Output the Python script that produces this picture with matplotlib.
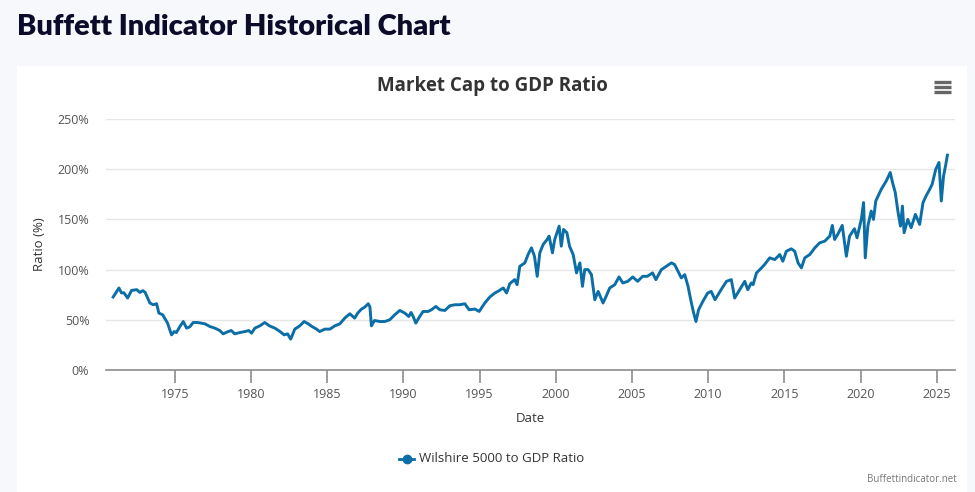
import matplotlib
matplotlib.use("Agg")
import matplotlib.pyplot as plt
from matplotlib.patches import Rectangle
from matplotlib.lines import Line2D

# ---- data ----
years = [
    1970.95, 1971.33, 1971.5, 1971.65, 1971.9, 1972.16, 1972.5, 1972.7, 1972.9, 1973.05,
    1973.36, 1973.58, 1973.8, 1973.95, 1974.2, 1974.52, 1974.78, 1974.96, 1975.1, 1975.33,
    1975.55, 1975.77, 1975.98, 1976.2, 1976.5, 1976.97, 1977.3, 1977.62, 1977.95, 1978.17,
    1978.5, 1978.7, 1978.93, 1979.26, 1979.6, 1979.85, 1980.03, 1980.25, 1980.58, 1980.9,
    1981.2, 1981.56, 1981.9, 1982.17, 1982.4, 1982.6, 1982.87, 1983.2, 1983.48, 1983.75,
    1984.0, 1984.3, 1984.5, 1984.84, 1985.17, 1985.5, 1985.83, 1986.15, 1986.48, 1986.8,
    1987.0, 1987.25, 1987.47, 1987.69, 1987.8, 1987.9, 1988.1, 1988.45, 1988.78, 1989.1,
    1989.43, 1989.76, 1990.09, 1990.35, 1990.5, 1990.64, 1990.81, 1991.07, 1991.29, 1991.62,
    1991.84, 1992.13, 1992.39, 1992.72, 1993.05, 1993.37, 1993.7, 1994.03, 1994.31, 1994.69,
    1994.97, 1995.34, 1995.67, 1996.0, 1996.2, 1996.55, 1996.77, 1996.98, 1997.3, 1997.46,
    1997.64, 1997.97, 1998.18, 1998.4, 1998.6, 1998.78, 1998.95, 1999.17, 1999.43, 1999.56,
    1999.78, 1999.93, 2000.22, 2000.36, 2000.51, 2000.73, 2000.9, 2001.14, 2001.36, 2001.58,
    2001.75, 2001.9, 2002.12, 2002.34, 2002.56, 2002.78, 2003.1, 2003.3, 2003.54, 2003.87,
    2004.15, 2004.4, 2004.72, 2005.05, 2005.37, 2005.7, 2006.0, 2006.35, 2006.57, 2006.93,
    2007.26, 2007.59, 2007.8, 2008.02, 2008.24, 2008.46, 2008.68, 2008.9, 2009.05, 2009.2,
    2009.37, 2009.65, 2009.97, 2010.2, 2010.45, 2010.85, 2011.2, 2011.52, 2011.74, 2012.07,
    2012.4, 2012.6, 2012.83, 2012.95, 2013.17, 2013.5, 2013.7, 2014.04, 2014.37, 2014.7,
    2014.9, 2015.13, 2015.46, 2015.68, 2015.9, 2016.12, 2016.34, 2016.67, 2017.0, 2017.32,
    2017.65, 2017.98, 2018.15, 2018.3, 2018.5, 2018.8, 2019.07, 2019.28, 2019.6, 2019.77,
    2020.05, 2020.2, 2020.31, 2020.48, 2020.7, 2020.85, 2021.0, 2021.36, 2021.69, 2021.95,
    2022.1, 2022.28, 2022.45, 2022.62, 2022.75, 2022.86, 2023.1, 2023.32, 2023.6, 2023.88,
    2024.1, 2024.3, 2024.54, 2024.7, 2024.94, 2025.15, 2025.3, 2025.45, 2025.6, 2025.7,
]
ratio = [
    72.7, 81.7, 76.7, 77.0, 71.7, 79.3, 80.0, 77.3, 79.0, 77.3,
    66.7, 65.0, 66.0, 56.7, 55.0, 46.7, 35.0, 38.3, 37.3, 43.3,
    48.3, 41.7, 43.0, 47.3, 47.3, 46.0, 43.3, 41.7, 39.3, 36.0,
    38.3, 39.3, 36.0, 37.3, 38.3, 39.3, 36.7, 41.7, 44.0, 47.3,
    44.0, 41.7, 38.3, 35.0, 36.0, 30.7, 40.7, 44.0, 48.3, 46.0,
    43.3, 40.7, 38.3, 40.7, 40.7, 44.0, 46.0, 51.7, 56.0, 51.7,
    56.7, 60.7, 62.7, 66.0, 63.0, 44.0, 49.3, 48.3, 48.3, 50.0,
    55.0, 59.3, 56.7, 53.3, 57.3, 53.3, 46.7, 53.3, 58.3, 58.3,
    60.0, 63.3, 60.0, 59.3, 64.0, 65.0, 65.0, 66.0, 60.0, 60.7,
    58.3, 66.7, 72.7, 76.7, 78.3, 81.7, 76.7, 86.0, 90.0, 85.0,
    103.3, 106.7, 115.0, 121.7, 113.3, 93.3, 116.7, 125.0, 130.0, 133.3,
    116.7, 130.0, 143.3, 123.3, 140.0, 136.7, 123.3, 115.0, 96.7, 106.7,
    83.3, 100.0, 100.0, 95.0, 70.0, 78.3, 66.7, 73.3, 81.7, 85.0,
    92.7, 86.7, 88.3, 92.7, 88.3, 93.3, 93.3, 96.7, 90.0, 100.0,
    103.3, 106.7, 105.0, 98.3, 91.7, 95.0, 83.3, 66.7, 56.7, 48.3,
    60.0, 68.3, 76.7, 78.3, 70.0, 80.0, 88.3, 90.0, 71.7, 80.0,
    88.3, 80.0, 86.7, 85.0, 96.7, 101.7, 105.0, 111.7, 110.0, 115.0,
    108.3, 118.3, 120.7, 118.3, 106.7, 101.7, 111.7, 115.0, 121.7, 126.7,
    128.3, 133.3, 144.0, 130.0, 135.0, 144.0, 113.3, 133.3, 140.7, 131.7,
    150.0, 166.7, 111.7, 143.3, 158.3, 150.0, 168.3, 180.0, 188.3, 196.7,
    186.7, 176.7, 158.3, 143.3, 163.3, 136.7, 150.0, 141.7, 155.0, 145.0,
    166.7, 173.3, 180.0, 185.0, 200.0, 206.7, 168.3, 193.3, 205.0, 214.0,
]
x_ticks = [1975, 1980, 1985, 1990, 1995, 2000, 2005, 2010, 2015, 2020, 2025]
y_ticks = [0, 50, 100, 150, 200, 250]
series_name = "Wilshire 5000 to GDP Ratio"

W, H = 975, 492
fig = plt.figure(figsize=(W / 100, H / 100), dpi=100)
fig.patch.set_facecolor("#f7f8fc")

# white card (behind everything)
card = Rectangle((17 / W, 0), (967 - 17) / W, (H - 66) / H,
                 transform=fig.transFigure, facecolor="white",
                 edgecolor="none", zorder=-10)
fig.patches.append(card)

LINE = "#0b6ea6"
ax = fig.add_axes([106 / W, 1 - 370 / H, (955 - 106) / W, (370 - 119) / H])
ax.set_zorder(2)
ax.set_facecolor("none")
ax.plot(years, ratio, color=LINE, lw=2.1, solid_joinstyle="round", zorder=3)
ax.set_xlim(1970.48, 2026.2)
ax.set_ylim(0, 250)
ax.set_xticks(x_ticks)
ax.set_xticklabels([str(t) for t in x_ticks])
ax.set_yticks(y_ticks)
ax.set_yticklabels([f"{t}%" for t in y_ticks])
ax.grid(axis="y", color="#e6e6e6", lw=1)
ax.set_axisbelow(True)
for s in ["top", "right", "left"]:
    ax.spines[s].set_visible(False)
ax.spines["bottom"].set_color("#8c8c8c")
ax.spines["bottom"].set_linewidth(1.2)
ax.tick_params(axis="x", length=9, width=1.2, color="#8c8c8c", labelsize=9,
               labelcolor="#555555", pad=4, direction="out")
ax.tick_params(axis="y", length=0, labelsize=9, labelcolor="#555555", pad=12)
for lab in ax.get_xticklabels() + ax.get_yticklabels():
    lab.set_family("Open Sans")

ax.set_xlabel("Date", fontsize=9.5, color="#333333", family="Open Sans", labelpad=8)
ax.set_ylabel("Ratio (%)", fontsize=9.5, color="#333333", family="Open Sans", labelpad=8)

# titles
fig.text(17 / W, 1 - 27 / H, "Buffett Indicator Historical Chart", fontsize=21,
         fontweight="heavy", family="Lato", color="#0c0c2a", va="center", ha="left")
fig.text(492 / W, 1 - 86 / H, "Market Cap to GDP Ratio", fontsize=13.5,
         fontweight="bold", family="Open Sans", color="#333333", va="center", ha="center")

# hamburger icon
for dy in (-5, 0, 5):
    fig.add_artist(Line2D([934 / W, 951 / W], [1 - (87 + dy) / H] * 2,
                          transform=fig.transFigure, color="#666666", lw=2.4,
                          solid_capstyle="butt"))

# legend
leg_y = 1 - 459 / H
fig.add_artist(Line2D([399 / W, 414 / W], [leg_y, leg_y], transform=fig.transFigure,
                      color=LINE, lw=2))
fig.add_artist(Line2D([406.5 / W], [leg_y], transform=fig.transFigure, color=LINE,
                      marker="o", markersize=6, lw=0))
fig.text(419 / W, leg_y, series_name, fontsize=9.5, family="Open Sans",
         color="#333333", va="center", ha="left")

fig.text(957 / W, 1 - 480 / H, "Buffettindicator.net", fontsize=7, family="Open Sans",
         color="#777777", va="center", ha="right")

fig.savefig("out.png", dpi=100, facecolor=fig.get_facecolor())
